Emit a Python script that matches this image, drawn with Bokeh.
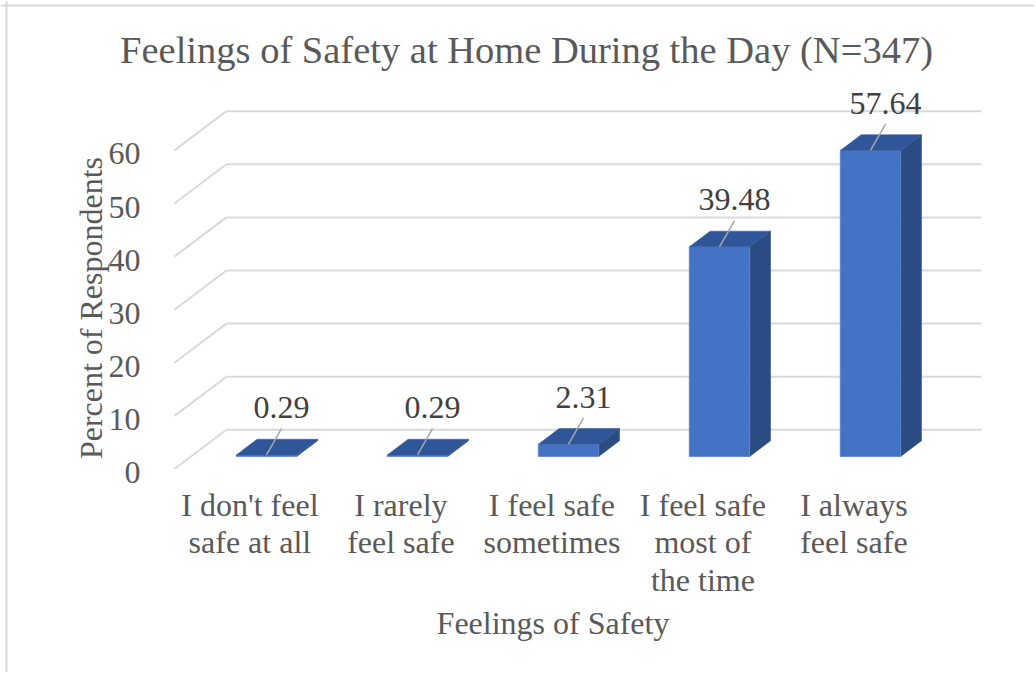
import math
from bokeh.plotting import figure
from bokeh.models import Range1d, Label, Span
from bokeh.core.properties import value
from bokeh.embed import file_html
from bokeh.resources import INLINE

# ---------------- data ----------------
title_text = "Feelings of Safety at Home During the Day (N=347)"
categories = ["I don't feel\nsafe at all", "I rarely\nfeel safe", "I feel safe\nsometimes",
              "I feel safe\nmost of\nthe time", "I always\nfeel safe"]
values = [0.29, 0.29, 2.31, 39.48, 57.64]
y_ticks = [0, 10, 20, 30, 40, 50, 60]
x_title = "Feelings of Safety"
y_title = "Percent of Respondents"

# ---------------- geometry / style ----------------
FONT = value("Liberation Serif")
TXT = "#595959"
PX_X = 151.0          # pixels per category
PX_Y = 5.31           # pixels per percent
DX = 52.0 / PX_X      # floor depth offset (data units)
DY = 39.2 / PX_Y
D0, D1 = 0.319, 0.72  # bar depth span (fraction of floor depth)
BAR_W = 0.40
n = len(categories)
X_LO, X_HI = -0.5, n - 0.5

W, H = 1034, 672
OX, OY = 249.4, 468.5   # px of (x=0, y=0) on the front floor edge

p = figure(width=W, height=H, output_backend="svg", toolbar_location=None,
           x_range=Range1d(-OX / PX_X, (W - OX) / PX_X),
           y_range=Range1d(-(H - OY) / PX_Y, OY / PX_Y),
           x_axis_location=None, y_axis_location=None,
           min_border=0)
p.outline_line_color = None
p.background_fill_color = "white"
p.border_fill_color = "white"
p.xgrid.visible = False
p.ygrid.visible = False

# chart-area border (left and top edges)
p.add_layout(Span(location=(6 - OX) / PX_X, dimension="height",
                  line_color="#d9d9d9", line_width=2))
p.add_layout(Span(location=(OY - 5) / PX_Y, dimension="width",
                  line_color="#d9d9d9", line_width=2))

# ---------------- gridlines (side wall + back wall) ----------------
m = len(y_ticks)
p.segment(x0=[X_LO] * m, y0=y_ticks, x1=[X_LO + DX] * m, y1=[t + DY for t in y_ticks],
          line_color="#d9d9d9", line_width=2)
p.segment(x0=[X_LO + DX] * m, y0=[t + DY for t in y_ticks],
          x1=[X_HI + DX] * m, y1=[t + DY for t in y_ticks],
          line_color="#d9d9d9", line_width=2)

# tick labels
p.text(x=[X_LO - 34 / PX_X] * m, y=[t - 3.5 / PX_Y for t in y_ticks],
       text=[str(t) for t in y_ticks], text_font=FONT, text_font_size="32px",
       text_color=TXT, text_align="right", text_baseline="middle")

# ---------------- 3D bars ----------------
front_xs, front_ys, top_xs, top_ys, side_xs, side_ys = [], [], [], [], [], []
for i, v in enumerate(values):
    xl, xr = i - BAR_W / 2, i + BAR_W / 2
    fx0, fy0 = D0 * DX, D0 * DY
    bx0, by0 = D1 * DX, D1 * DY
    front_xs.append([xl + fx0, xr + fx0, xr + fx0, xl + fx0])
    front_ys.append([fy0, fy0, v + fy0, v + fy0])
    top_xs.append([xl + fx0, xr + fx0, xr + bx0, xl + bx0])
    top_ys.append([v + fy0, v + fy0, v + by0, v + by0])
    side_xs.append([xr + fx0, xr + bx0, xr + bx0, xr + fx0])
    side_ys.append([fy0, by0, v + by0, v + fy0])

p.patches(side_xs, side_ys, fill_color="#2B4B83", line_color="#2B4B83", line_width=0.5)
p.patches(front_xs, front_ys, fill_color="#4472C4", line_color="#5B84CC", line_width=0.8)
p.patches(top_xs, top_ys, fill_color="#30569A", line_color="#30569A", line_width=0.5)

# ---------------- value labels with leader lines ----------------
fxs = [i + D0 * DX for i in range(n)]
tops = [v + D0 * DY for v in values]
p.segment(x0=fxs, y0=tops,
          x1=[x + 15 / PX_X for x in fxs], y1=[t + 26.3 / PX_Y for t in tops],
          line_color="#A6A6A6", line_width=1.5)
p.text(x=[x + 15 / PX_X for x in fxs], y=[t + 47 / PX_Y for t in tops],
       text=[f"{v:.2f}" for v in values], text_font=FONT, text_font_size="32px",
       text_color="#404040", text_align="center", text_baseline="middle")

# ---------------- category labels ----------------
p.text(x=list(range(n)), y=[-18.0 / PX_Y] * n, text=categories,
       text_font=FONT, text_font_size="32px", text_color=TXT,
       text_align="center", text_baseline="top", text_line_height=1.035)

# ---------------- axis titles ----------------
p.add_layout(Label(x=(552.5 - OX) / PX_X, y=(OY - 622) / PX_Y, text=x_title,
                   text_font="Liberation Serif", text_font_size="32px", text_color=TXT,
                   text_align="center", text_baseline="middle"))
p.add_layout(Label(x=(90.5 - OX) / PX_X, y=(OY - 307.5) / PX_Y, text=y_title,
                   text_font="Liberation Serif", text_font_size="32px", text_color=TXT,
                   angle=math.pi / 2, text_align="center", text_baseline="middle"))

# ---------------- title ----------------
p.text(x=[(526 - OX) / PX_X], y=[(OY - 49) / PX_Y], text=[title_text],
       text_font=FONT, text_font_size="38.5px", text_color=TXT,
       text_align="center", text_baseline="middle")

open("out.html", "w").write(file_html(p, INLINE))
